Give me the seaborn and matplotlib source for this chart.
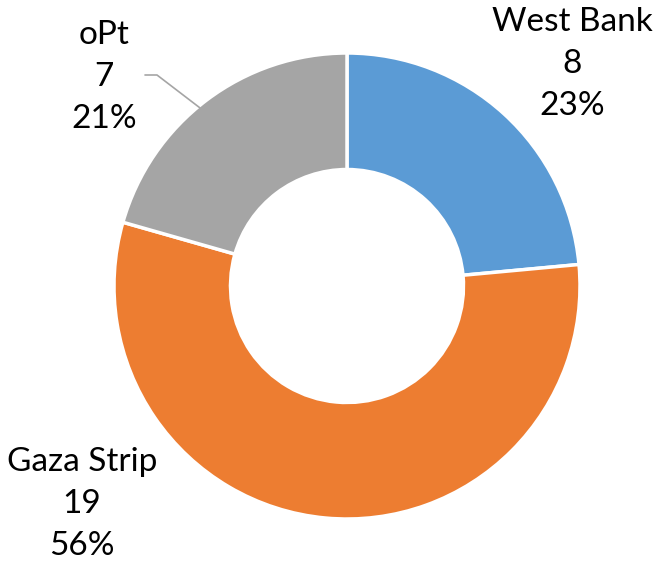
import numpy as np
import matplotlib
matplotlib.use("Agg")
import matplotlib.pyplot as plt
import seaborn as sns

regions = ["West Bank", "Gaza Strip", "oPt"]
counts = [8, 19, 7]
percents = [23, 56, 21]
colors = ["#5B9BD5", "#ED7D31", "#A5A5A5"]

sns.set_theme(style="white")
plt.rcParams['font.family'] = ['Lato', 'DejaVu Sans']

W, H = 656, 563
fig = plt.figure(figsize=(W / 100, H / 100), dpi=100)
ax = fig.add_axes([0, 0, 1, 1])

cx, cy, r = 347, H - 286, 233
wedges, _ = ax.pie(counts, colors=colors, startangle=90, counterclock=False,
                   center=(cx, cy), radius=r, frame=True,
                   wedgeprops=dict(width=r * 0.5, edgecolor="white", linewidth=2.5))
ax.set_xlim(0, W)
ax.set_ylim(0, H)
ax.axis("off")

label_pos = {"West Bank": (572, H - 64), "Gaza Strip": (82, H - 504), "oPt": (104, H - 77)}
for name, n, pct in zip(regions, counts, percents):
    x, y = label_pos[name]
    ax.text(x, y, f"{name}\n{n}\n{pct}%", ha="center", va="center",
            fontsize=24, linespacing=1.5, color="black")

# leader line for oPt
w = wedges[2]
mid = np.deg2rad((w.theta1 + w.theta2) / 2)
ex, ey = cx + r * np.cos(mid) * 0.99, cy + r * np.sin(mid) * 0.99
ax.plot([145, 157, ex - 8], [H - 75, H - 75, ey - 6], color="#A5A5A5", lw=1.2)

fig.savefig("out.png", dpi=100)
